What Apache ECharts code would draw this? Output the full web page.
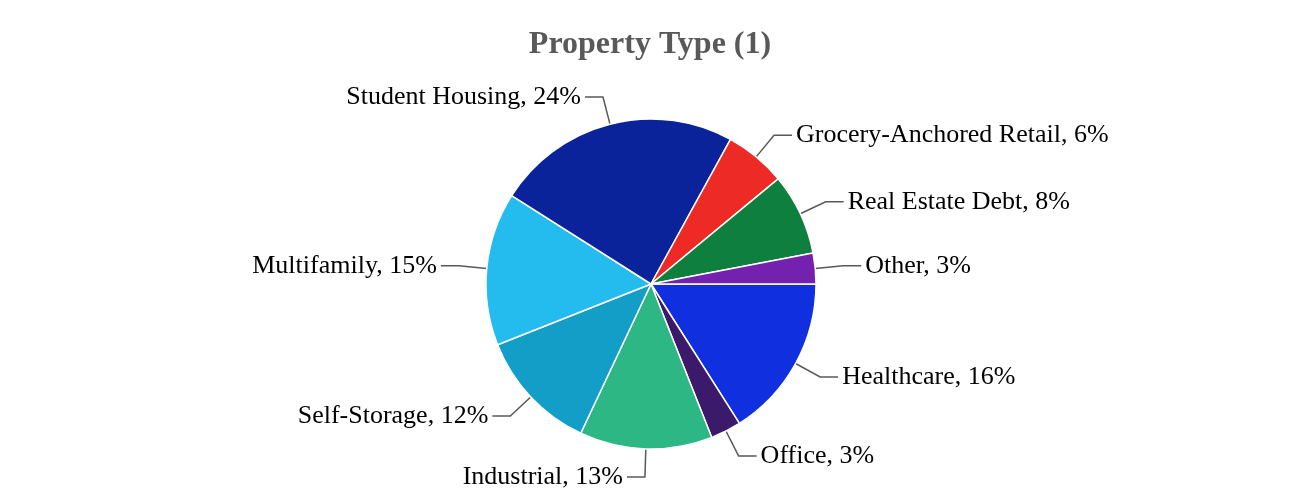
<!DOCTYPE html>
<html>
<head>
<meta charset="utf-8">
<script src="https://cdn.jsdelivr.net/npm/echarts@6/dist/echarts.min.js"></script>
<style>html,body{margin:0;padding:0;background:#fff;}#c{width:1300px;height:500px;}</style>
</head>
<body>
<div id="c"></div>
<script>
const categories = ["Healthcare", "Office", "Industrial", "Self-Storage", "Multifamily", "Student Housing", "Grocery-Anchored Retail", "Real Estate Debt", "Other"];
const values = [16, 3, 13, 12, 15, 24, 6, 8, 3];
const colors = ["#1030e0", "#3b1a6c", "#2db784", "#139ec8", "#24bcef", "#0a239a", "#ee2a26", "#0e7f3f", "#7421b0"];

const chart = echarts.init(document.getElementById('c'));
chart.setOption({
  animation: false,
  title: {
    text: 'Property Type (1)',
    left: 'center',
    top: 24,
    textStyle: { fontFamily: 'Liberation Serif', fontSize: 32, fontWeight: 'bold', color: '#595959' }
  },
  series: [{
    type: 'pie',
    center: [651, 284],
    radius: 165,
    startAngle: 0,
    clockwise: true,
    data: categories.map((c, i) => ({ name: c, value: values[i], itemStyle: { color: colors[i] } })),
    itemStyle: { borderColor: '#ffffff', borderWidth: 1.5 },
    label: {
      formatter: p => p.name + ', ' + p.value + '%',
      fontFamily: 'Liberation Serif',
      fontSize: 26,
      color: '#000000',
      distanceToLabelLine: 4
    },
    labelLine: { length: 28, length2: 18, lineStyle: { color: '#595959', width: 1.5 } }
  }]
});
</script>
</body>
</html>
